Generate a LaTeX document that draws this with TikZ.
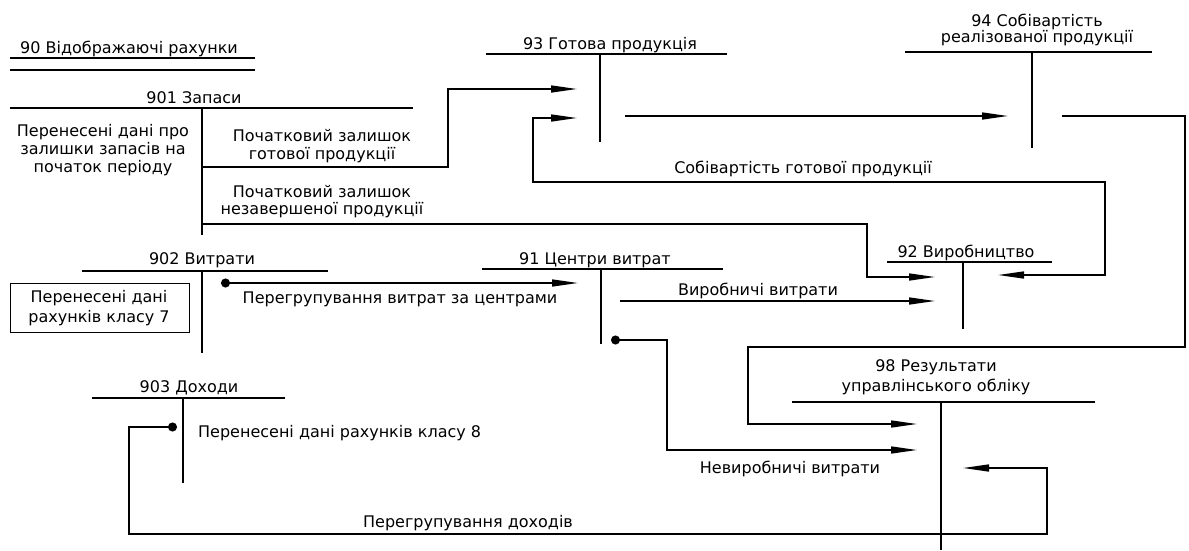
\documentclass[tikz,border=0pt]{standalone}
\usepackage{fontspec}
\setmainfont{DejaVu Sans}
\usetikzlibrary{arrows.meta}
\begin{document}
\begin{tikzpicture}[x=1pt,y=-1pt,
  every node/.style={inner sep=0pt,font=\fontsize{16}{18}\selectfont},
  acc/.style={line width=1.7pt},
  conn/.style={line width=1.5pt,line join=miter},
  arr/.style={conn,-{Triangle[length=26pt,width=7pt]}},
  barr/.style={conn,{Triangle[length=26pt,width=7pt]}-{Triangle[length=26pt,width=7pt]}},
  dotted start/.style={conn,{Circle[length=9pt]}-{Triangle[length=26pt,width=7pt]}},
  lbl/.style={anchor=base,align=center},
]
\useasboundingbox (0,0) rectangle (1189,550);

% ---- 90
\node[anchor=base west] (t90) at (20,53) {90 Відображаючі рахунки};
\coordinate (l90a) at (10,58); \coordinate (r90a) at (255,58);
\coordinate (l90b) at (10,70); \coordinate (r90b) at (255,70);
\draw[acc] (l90a) -- (r90a);
\draw[acc] (l90b) -- (r90b);

% ---- 901
\node[lbl] (t901) at (194,103) {901 Запаси};
\coordinate (l901) at (10,108); \coordinate (r901) at (413,108);
\coordinate (v901t) at (202,108); \coordinate (v901b) at (202,235);
\draw[acc] (l901) -- (r901);
\draw[acc] (v901t) -- (v901b);
\node[lbl,font=\fontsize{16}{18}\selectfont] (d901) at (103,172)
  {Перенесені дані про\\залишки запасів на\\початок періоду};
\node[lbl,font=\fontsize{16}{18}\selectfont] (c901a) at (322,159)
  {Початковий залишок\\готової продукції};
\node[lbl,font=\fontsize{16}{17}\selectfont] (c901b) at (322,214)
  {Початковий залишок\\незавершеної продукції};

% ---- 93
\node[lbl] (t93) at (610,49) {93 Готова продукція};
\coordinate (l93) at (486,54); \coordinate (r93) at (727,54);
\coordinate (v93t) at (600,54); \coordinate (v93b) at (600,142);
\draw[acc] (l93) -- (r93);
\draw[acc] (v93t) -- (v93b);

% ---- 94
\node[lbl,font=\fontsize{16}{16}\selectfont] (t94) at (1037,42)
  {94 Собівартість\\реалізованої продукції};
\coordinate (l94) at (905,52); \coordinate (r94) at (1152,52);
\coordinate (v94t) at (1032,52); \coordinate (v94b) at (1032,148);
\draw[acc] (l94) -- (r94);
\draw[acc] (v94t) -- (v94b);

% ---- 902
\node[lbl] (t902) at (202,264) {902 Витрати};
\coordinate (l902) at (82,271); \coordinate (r902) at (328,271);
\coordinate (v902t) at (202,271); \coordinate (v902b) at (202,353);
\draw[acc] (l902) -- (r902);
\draw[acc] (v902t) -- (v902b);
\coordinate (bx1) at (10,283); \coordinate (bx2) at (189,332);
\draw[line width=0.9pt] (bx1) rectangle (bx2);
\node[lbl,font=\fontsize{16}{20}\selectfont] (d902) at (99,322)
  {Перенесені дані\\рахунків класу 7};

% ---- 91
\node[lbl] (t91) at (595,264) {91 Центри витрат};
\coordinate (l91) at (482,269); \coordinate (r91) at (723,269);
\coordinate (v91t) at (601,269); \coordinate (v91b) at (601,344);
\draw[acc] (l91) -- (r91);
\draw[acc] (v91t) -- (v91b);

% ---- 92
\node[lbl] (t92) at (966,257) {92 Виробництво};
\coordinate (l92) at (887,262); \coordinate (r92) at (1052,262);
\coordinate (v92t) at (963,262); \coordinate (v92b) at (963,329);
\draw[acc] (l92) -- (r92);
\draw[acc] (v92t) -- (v92b);

% ---- 98
\node[lbl,font=\fontsize{16}{20}\selectfont] (t98) at (936,391)
  {98 Результати\\управлінського обліку};
\coordinate (l98) at (792,402); \coordinate (r98) at (1095,402);
\coordinate (v98t) at (941,402); \coordinate (v98b) at (941,550);
\draw[acc] (l98) -- (r98);
\draw[acc] (v98t) -- (v98b);

% ---- 903
\node[lbl] (t903) at (189,392) {903 Доходи};
\coordinate (l903) at (92,398); \coordinate (r903) at (285,398);
\coordinate (v903t) at (183,398); \coordinate (v903b) at (183,483);
\draw[acc] (l903) -- (r903);
\draw[acc] (v903t) -- (v903b);
\node[anchor=base west] (d903) at (198,437) {Перенесені дані рахунків класу 8};

% ---- connectors
% 901 -> 93
\coordinate (a1s) at (202,167); \coordinate (a1c1) at (448,167);
\coordinate (a1c2) at (448,89); \coordinate (a1e) at (577,89);
\draw[arr] (a1s) -- (a1c1) -- (a1c2) -- (a1e);

% 901 -> 92
\coordinate (a2s) at (202,224); \coordinate (a2c1) at (867,224);
\coordinate (a2c2) at (867,277); \coordinate (a2e) at (935,277);
\draw[arr] (a2s) -- (a2c1) -- (a2c2) -- (a2e);

% 93 -> 94
\coordinate (a3s) at (625,116); \coordinate (a3e) at (1008,116);
\draw[arr] (a3s) -- (a3e);

% 94 -> 98
\coordinate (a4s) at (1062,116); \coordinate (a4c1) at (1185,116);
\coordinate (a4c2) at (1185,347); \coordinate (a4c3) at (748,347);
\coordinate (a4c4) at (748,424); \coordinate (a4e) at (917,424);
\draw[arr] (a4s) -- (a4c1) -- (a4c2) -- (a4c3) -- (a4c4) -- (a4e);

% 92 -> 93
\coordinate (a5s) at (998,275); \coordinate (a5c1) at (1105,275);
\coordinate (a5c2) at (1105,182); \coordinate (a5c3) at (533,182);
\coordinate (a5c4) at (533,118); \coordinate (a5e) at (577,118);
\draw[barr] (a5s) -- (a5c1) -- (a5c2) -- (a5c3) -- (a5c4) -- (a5e);
\node[anchor=base] (l5) at (803,173) {Собівартість готової продукції};

% 902 -> 91
\coordinate (a6s) at (221,283); \coordinate (a6e) at (578,283);
\draw[dotted start] (a6s) -- (a6e);
\node[anchor=base] (l6) at (400,303) {Перегрупування витрат за центрами};

% 91 -> 92
\coordinate (a7s) at (620,301); \coordinate (a7e) at (935,301);
\draw[arr] (a7s) -- (a7e);
\node[anchor=base] (l7) at (758,295) {Виробничі витрати};

% 91 -> 98
\coordinate (a8s) at (611,340); \coordinate (a8c1) at (667,340);
\coordinate (a8c2) at (667,450); \coordinate (a8e) at (917,450);
\draw[dotted start] (a8s) -- (a8c1) -- (a8c2) -- (a8e);
\node[anchor=base] (l8) at (790,473) {Невиробничі витрати};

% 903 -> 98
\coordinate (a9s) at (177,427); \coordinate (a9c1) at (129,427);
\coordinate (a9c2) at (129,534); \coordinate (a9c3) at (1047,534);
\coordinate (a9c4) at (1047,468); \coordinate (a9e) at (963,468);
\draw[dotted start] (a9s) -- (a9c1) -- (a9c2) -- (a9c3) -- (a9c4) -- (a9e);
\node[anchor=base] (l9) at (468,527) {Перегрупування доходів};
\end{tikzpicture}
\end{document}
